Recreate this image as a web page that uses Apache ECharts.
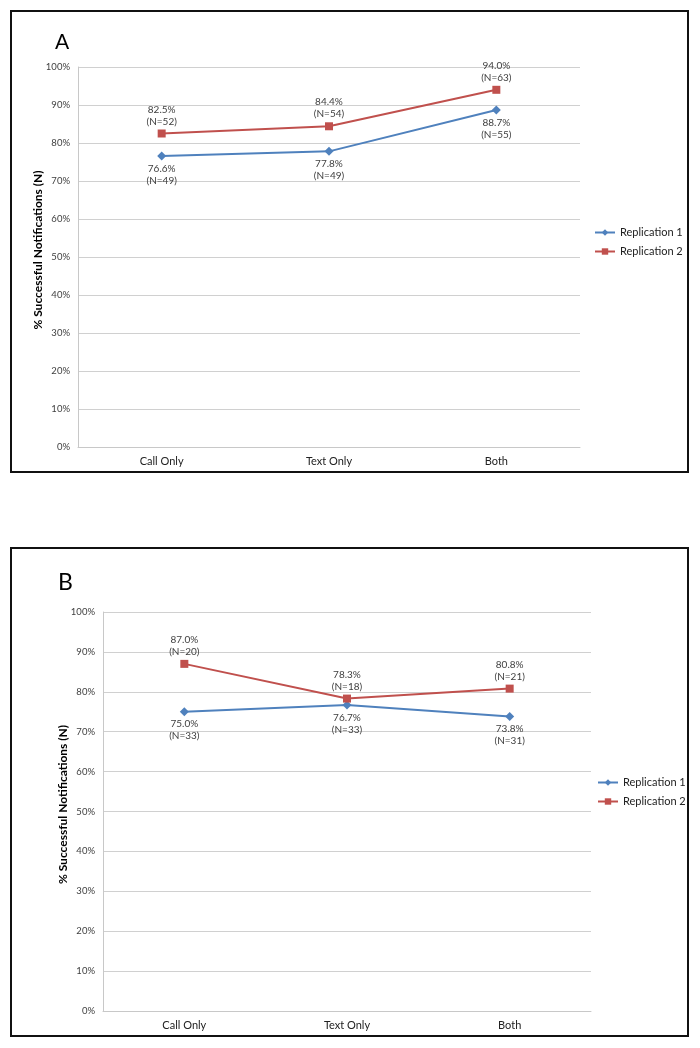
<!DOCTYPE html>
<html>
<head>
<meta charset="utf-8">
<script src="https://cdn.jsdelivr.net/npm/echarts@6/dist/echarts.min.js"></script>
<style>
html,body{margin:0;padding:0;background:#fff;}
#c{width:700px;height:1048px;}
</style>
</head>
<body>
<div id="c"></div>
<script>
const categories = ['Call Only', 'Text Only', 'Both'];
const yTicks = [0, 10, 20, 30, 40, 50, 60, 70, 80, 90, 100];
const seriesNames = ['Replication 1', 'Replication 2'];

const aRep1 = [76.6, 77.8, 88.7];
const aRep1N = [49, 49, 55];
const aRep2 = [82.5, 84.4, 94.0];
const aRep2N = [52, 54, 63];

const bRep1 = [75.0, 76.7, 73.8];
const bRep1N = [33, 33, 31];
const bRep2 = [87.0, 78.3, 80.8];
const bRep2N = [20, 18, 21];

const FONT = 'Lato, "Open Sans", sans-serif';
const BLUE = '#4F81BD';
const RED = '#C0504D';

function mkSeries(name, vals, ns, color, symbol, pos, idx) {
  return {
    name: name,
    type: 'line',
    xAxisIndex: idx,
    yAxisIndex: idx,
    data: vals,
    symbol: symbol,
    symbolSize: symbol === 'rect' ? 8 : 9,
    lineStyle: { color: color, width: 2 },
    itemStyle: { color: color },
    label: {
      show: true,
      position: pos,
      distance: 2,
      fontFamily: FONT,
      fontSize: 10,
      lineHeight: 12,
      color: '#404040',
      formatter: p => vals[p.dataIndex].toFixed(1) + '%\n(N=' + ns[p.dataIndex] + ')'
    },
    animation: false
  };
}

function mkY(idx) {
  return {
    type: 'value',
    gridIndex: idx,
    min: yTicks[0],
    max: yTicks[yTicks.length - 1],
    interval: yTicks[1] - yTicks[0],
    name: '% Successful Notifications (N)',
    nameLocation: 'middle',
    nameGap: 34,
    nameMoveOverlap: false,
    nameTextStyle: { fontFamily: FONT, fontSize: 12, fontWeight: 'bold', color: '#000', padding: [0, 0, 0, 14] },
    axisLine: { show: true, lineStyle: { color: '#c8c8c8', width: 1 } },
    axisTick: { show: false },
    axisLabel: { fontFamily: FONT, fontSize: 9.5, color: '#404040', formatter: '{value}%', margin: 8 },
    splitLine: { show: true, lineStyle: { color: '#d0d0d0', width: 1 } }
  };
}

function mkX(idx) {
  return {
    type: 'category',
    gridIndex: idx,
    data: categories,
    boundaryGap: true,
    axisLine: { show: true, lineStyle: { color: '#c8c8c8', width: 1 } },
    axisTick: { show: false },
    axisLabel: { fontFamily: FONT, fontSize: 11, color: '#222', margin: 9 }
  };
}

const chart = echarts.init(document.getElementById('c'), null, { renderer: 'canvas' });
chart.setOption({
  backgroundColor: '#fff',
  animation: false,
  title: [
    { text: 'A', left: 50, top: 27, textStyle: { fontFamily: FONT, fontSize: 21, fontWeight: 'normal', color: '#000' } },
    { text: 'B', left: 53, top: 566, textStyle: { fontFamily: FONT, fontSize: 23, fontWeight: 'normal', color: '#000' } }
  ],
  graphic: [
    { type: 'rect', shape: { x: 11, y: 11, width: 677, height: 461 }, style: { fill: 'none', stroke: '#111', lineWidth: 2 }, silent: true },
    { type: 'rect', shape: { x: 11, y: 548, width: 677, height: 488 }, style: { fill: 'none', stroke: '#111', lineWidth: 2 }, silent: true }
  ],
  grid: [
    { left: 78, right: 120, top: 67, height: 380 },
    { left: 103, right: 109, top: 612, height: 399 }
  ],
  xAxis: [mkX(0), mkX(1)],
  yAxis: [mkY(0), mkY(1)],
  legend: [
    {
      data: seriesNames, orient: 'vertical', left: 589, top: 222, itemGap: 8,
      itemWidth: 20, itemHeight: 8,
      textStyle: { fontFamily: FONT, fontSize: 11, color: '#222' }
    },
    {
      data: seriesNames, orient: 'vertical', left: 592, top: 772, itemGap: 8,
      itemWidth: 20, itemHeight: 8,
      textStyle: { fontFamily: FONT, fontSize: 11, color: '#222' }
    }
  ],
  series: [
    mkSeries(seriesNames[0], aRep1, aRep1N, BLUE, 'diamond', 'bottom', 0),
    mkSeries(seriesNames[1], aRep2, aRep2N, RED, 'rect', 'top', 0),
    mkSeries(seriesNames[0], bRep1, bRep1N, BLUE, 'diamond', 'bottom', 1),
    mkSeries(seriesNames[1], bRep2, bRep2N, RED, 'rect', 'top', 1)
  ]
});
</script>
</body>
</html>
